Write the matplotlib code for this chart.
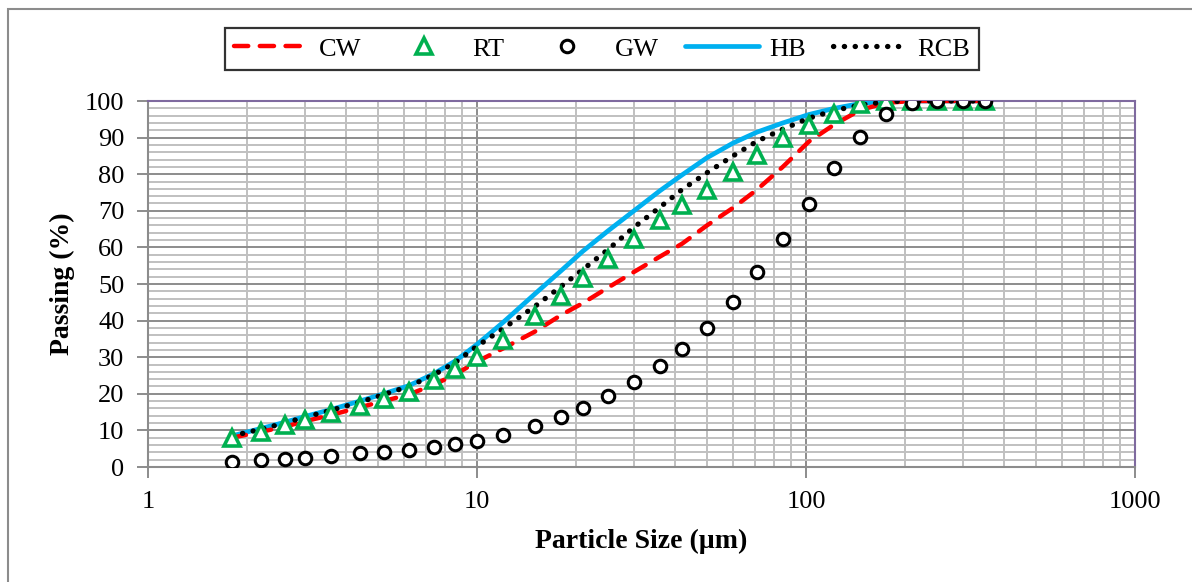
import matplotlib
matplotlib.use("Agg")
from matplotlib import pyplot as plt
from matplotlib.ticker import LogLocator, MultipleLocator, FixedLocator, NullFormatter
from matplotlib.patches import Rectangle

# particle sizes (um) and cumulative passing (%) for each sample
sizes = [1.8, 2.2, 2.6, 3.0, 3.6, 4.4, 5.2, 6.2, 7.4, 8.6, 10, 12, 15, 18, 21, 25,
         30, 36, 42, 50, 60, 71, 85, 102, 122, 146, 175, 210, 250, 300, 350]
cw = [8.0, 9.6, 11.0, 12.5, 14.2, 16.3, 18.0, 19.8, 22.5, 25.3, 28.8, 32.4, 37.0, 41.5, 44.8, 49.0,
      53.3, 57.5, 61.0, 66.0, 70.8, 75.8, 82.0, 88.9, 93.6, 97.5, 99.5, 100, 100, 100, 100]
rt = [7.8, 9.6, 11.5, 12.8, 14.7, 16.7, 18.6, 20.6, 23.8, 26.7, 30.0, 34.6, 41.3, 46.6, 51.6, 56.8,
      62.3, 67.4, 71.6, 75.8, 80.7, 85.2, 90.0, 93.5, 96.5, 99.2, 100, 100, 100, 100, 100]
gw = [1.5, 1.9, 2.2, 2.5, 3.1, 3.7, 4.0, 4.6, 5.4, 6.3, 7.2, 8.8, 11.3, 13.7, 16.2, 19.5,
      23.3, 27.7, 32.2, 37.9, 45.0, 53.4, 62.3, 71.8, 81.6, 90.2, 96.4, 99.5, 100, 100, 100]
hb = [8.5, 10.5, 12.2, 13.8, 15.7, 18.0, 20.0, 22.2, 25.5, 29.0, 33.5, 39.5, 47.3, 53.6, 59.0, 64.5,
      70.0, 75.5, 79.8, 84.5, 88.5, 91.5, 94.0, 96.3, 98.0, 99.3, 100, 100, 100, 100, 100]
rcb = [8.5, 10.3, 12.0, 13.6, 15.5, 17.7, 19.8, 22.0, 25.2, 28.6, 33.0, 37.8, 43.9, 49.3, 54.0, 59.4,
       65.5, 71.0, 75.8, 80.4, 85.0, 89.0, 92.3, 95.3, 97.4, 98.9, 99.8, 100, 100, 100, 100]

plt.rcParams['font.family'] = ['Liberation Serif', 'DejaVu Serif']

fig = plt.figure(figsize=(11.92, 5.82), dpi=100)
fig.patches.append(Rectangle((8/1192, -0.1), 1.2, 1 - 9/582 + 0.1, transform=fig.transFigure,
                             fill=False, edgecolor='#8c8c8c', linewidth=1.5))
ax = fig.add_axes([148/1192, 1 - 467/582, (1135-148)/1192, (467-101)/582])

ax.plot(sizes, hb, color='#00B0F0', lw=3.4, solid_capstyle='round', label='HB', zorder=3)
ax.plot(sizes, cw, color='#FF0000', lw=3.2, ls=(0, (3.2, 2.6)), dash_capstyle='round', label='CW', zorder=4)
ax.plot(sizes, rcb, color='black', lw=3.8, ls=(0, (0.05, 2.0)), dash_capstyle='round', label='RCB', zorder=5)
ax.plot(sizes, rt, ls='none', marker='^', ms=11, mfc='white', mec='#00B050', mew=2.6, label='RT', zorder=6)
ax.plot(sizes, gw, ls='none', marker='o', ms=9, mfc='white', mec='black', mew=2.2, label='GW', zorder=7)

ax.set_xscale('log')
ax.set_xlim(1, 1000)
ax.set_ylim(0, 100)
ax.xaxis.set_major_locator(FixedLocator([1, 10, 100, 1000]))
ax.set_xticklabels(['1', '10', '100', '1000'])
ax.xaxis.set_minor_locator(LogLocator(base=10, subs=range(2, 10)))
ax.xaxis.set_minor_formatter(NullFormatter())
ax.yaxis.set_major_locator(MultipleLocator(10))
ax.yaxis.set_minor_locator(MultipleLocator(2))

ax.grid(which='major', color='#8c8c8c', lw=1.4)
ax.grid(which='minor', color='#c0c0c0', lw=1.4)
ax.set_axisbelow(True)
ax.tick_params(which='major', direction='out', length=8, width=1.4, color='#8c8c8c',
               labelsize=19, pad=9)
ax.tick_params(which='minor', length=0)
for s in ['left', 'bottom']:
    ax.spines[s].set_color('#8c8c8c')
    ax.spines[s].set_linewidth(1.5)
for s in ['top', 'right']:
    ax.spines[s].set_color('#7f6a9f')
    ax.spines[s].set_linewidth(1.5)

ax.set_xlabel('Particle Size (µm)', fontsize=20, fontweight='bold', labelpad=12)
ax.set_ylabel('Passing (%)', fontsize=20, fontweight='bold', labelpad=7)

h, l = ax.get_legend_handles_labels()
order = ['CW', 'RT', 'GW', 'HB', 'RCB']
hs = [h[l.index(k)] for k in order]
leg = fig.legend(hs, order, loc='center', bbox_to_anchor=(602/1192, 1 - 49/582), ncol=5,
                 fontsize=19, frameon=True, fancybox=False, edgecolor='black',
                 handlelength=2.8, columnspacing=1.0, handletextpad=0.4, borderpad=0.35)
leg.get_frame().set_linewidth(1.6)

fig.savefig('out.png', dpi=100)
